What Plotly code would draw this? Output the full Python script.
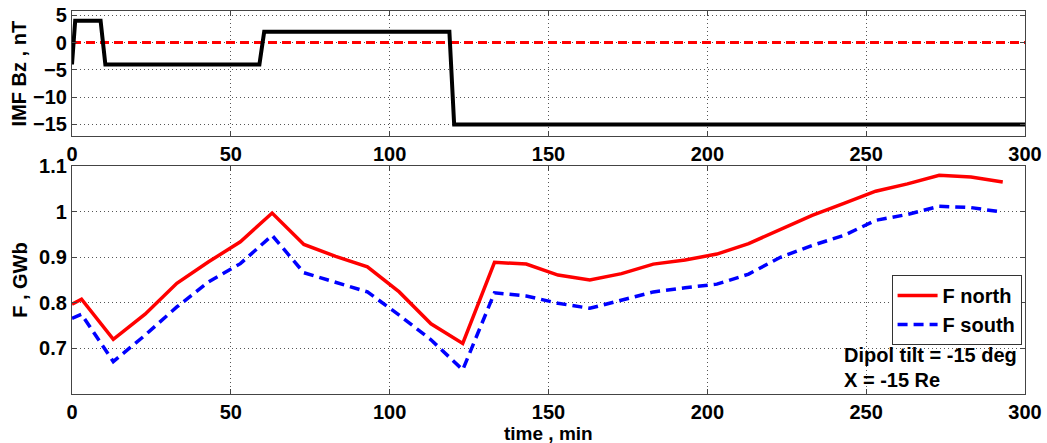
import plotly.graph_objects as go
from plotly.subplots import make_subplots

# IMF Bz step profile
bz_t = [0, 1, 9, 10.5, 59, 60.5, 118.8, 120.3, 300]
bz_v = [-4, 4, 4, -4, -4, 2, 2, -15, -15]
zero_t = [0, 300]
zero_v = [0, 0]

# Flux
t = [0, 3, 13, 23, 33, 43, 53, 63, 73, 83, 93, 103, 113, 123, 133, 143, 153,
     163, 173, 183, 193, 203, 213, 223, 233, 243, 253, 263, 273, 283, 293]
f_north = [0.797, 0.808, 0.720, 0.775, 0.843, 0.890, 0.934, 0.997, 0.928, 0.902,
           0.879, 0.824, 0.754, 0.711, 0.889, 0.885, 0.861, 0.850, 0.864, 0.885,
           0.894, 0.907, 0.930, 0.962, 0.992, 1.018, 1.045, 1.061, 1.080, 1.076, 1.065]
f_south = [0.766, 0.775, 0.671, 0.729, 0.791, 0.846, 0.886, 0.948, 0.866, 0.845,
           0.824, 0.773, 0.719, 0.653, 0.822, 0.815, 0.799, 0.788, 0.806, 0.824,
           0.833, 0.841, 0.863, 0.900, 0.926, 0.948, 0.981, 0.994, 1.012, 1.009, 0.999]

x_ticks = [0, 50, 100, 150, 200, 250, 300]
bz_ticks = [5, 0, -5, -10, -15]
f_ticks = [0.7, 0.8, 0.9, 1.0, 1.1]
f_ticklabels = ["0.7", "0.8", "0.9", "1", "1.1"]

FONT = "Liberation Sans, Arial, sans-serif"
FS = 20

fig = make_subplots(rows=2, cols=1, shared_xaxes=False, vertical_spacing=0.0)

fig.add_trace(go.Scatter(x=zero_t, y=zero_v, mode="lines",
                         line=dict(color="#ff0000", width=3, dash="9px,5px"),
                         showlegend=False), row=1, col=1)
fig.add_trace(go.Scatter(x=bz_t, y=bz_v, mode="lines",
                         line=dict(color="black", width=4),
                         showlegend=False), row=1, col=1)

fig.add_trace(go.Scatter(x=t, y=f_north, mode="lines", name="F north",
                         line=dict(color="#ff0000", width=3.5)), row=2, col=1)
fig.add_trace(go.Scatter(x=t, y=f_south, mode="lines", name="F south",
                         line=dict(color="#0000ff", width=3.5, dash="10px,6px")), row=2, col=1)

axis_common = dict(showline=True, linecolor="#444444", linewidth=1.2, mirror="ticks",
                   ticks="inside", ticklen=5, tickcolor="#444444",
                   showgrid=True, gridcolor="#555555", griddash="1px,3px", gridwidth=1,
                   zeroline=False, automargin=False,
                   tickfont=dict(family=FONT, size=FS, color="black", weight="bold"))

fig.update_xaxes(range=[0, 300], tickvals=x_ticks, **axis_common)
fig.update_xaxes(domain=[0, 1], row=1, col=1)
fig.update_yaxes(domain=[0.674, 1], range=[-17.1, 5.8], tickvals=bz_ticks,
                 row=1, col=1, **axis_common)
fig.update_yaxes(domain=[0, 0.595], range=[0.6, 1.1], tickvals=f_ticks, ticktext=f_ticklabels,
                 row=2, col=1, **axis_common)

title_font = dict(family=FONT, size=FS, color="black", weight="bold")
# axis titles
fig.add_annotation(x=0, y=0.837, xref="paper", yref="paper", xshift=-53,
                   text="IMF Bz , nT", textangle=-90, showarrow=False,
                   xanchor="center", yanchor="middle", font=title_font)
fig.add_annotation(x=0, y=0.298, xref="paper", yref="paper", xshift=-52,
                   text="F , GWb", textangle=-90, showarrow=False,
                   xanchor="center", yanchor="middle", font=title_font)
fig.add_annotation(x=0.5, y=0, xref="paper", yref="paper", yshift=-39,
                   text="time , min", showarrow=False,
                   xanchor="center", yanchor="middle",
                   font=dict(family=FONT, size=19, color="black", weight="bold"))

fig.add_annotation(x=242.5, y=0.686, xref="x2", yref="y2", text="Dipol tilt = -15 deg",
                   showarrow=False, xanchor="left", yanchor="middle",
                   font=dict(family=FONT, size=FS, color="black", weight="bold"))
fig.add_annotation(x=242.5, y=0.631, xref="x2", yref="y2", text="X = -15 Re",
                   showarrow=False, xanchor="left", yanchor="middle",
                   font=dict(family=FONT, size=FS, color="black", weight="bold"))

fig.update_layout(
    width=1047, height=443,
    margin=dict(l=72, r=22, t=11, b=49),
    paper_bgcolor="white", plot_bgcolor="white",
    legend=dict(x=0.86, y=0.311, xanchor="left", yanchor="top",
                bordercolor="#333333", borderwidth=1, bgcolor="white",
                font=dict(family=FONT, size=FS, color="black", weight="bold"),
                tracegroupgap=0, itemwidth=40),
)

fig.write_html("out.html", config={"displayModeBar": False},
               post_script="document.body.style.margin='0px';document.body.style.overflow='hidden';")
